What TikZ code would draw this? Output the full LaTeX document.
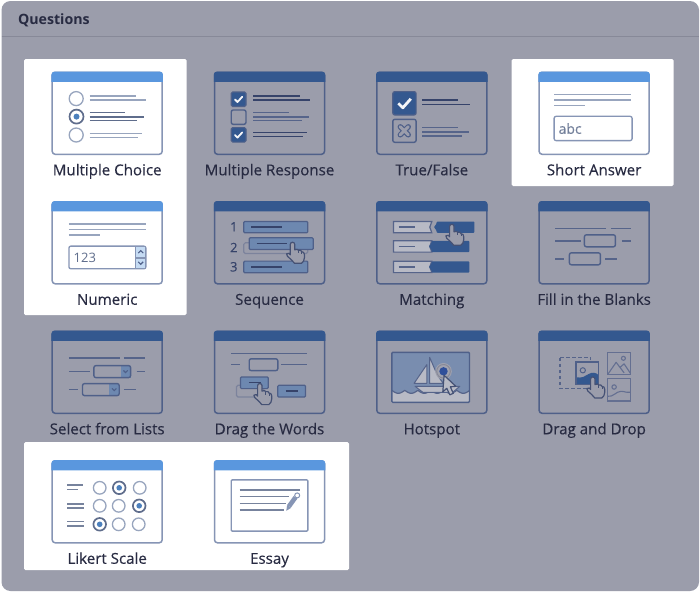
\documentclass[tikz,border=0pt]{standalone}
\usepackage{fontspec}
\setmainfont{Open Sans}
\newfontfamily\qfont[FakeBold=0.25]{Open Sans}
\usetikzlibrary{
  positioning
}
\definecolor{panel}{HTML}{9B9DAB}
\definecolor{panelline}{HTML}{878998}
\definecolor{headon}{HTML}{5A97DE}
\definecolor{headoff}{HTML}{34588F}
\definecolor{edgeon}{HTML}{8695B5}
\definecolor{edgeoff}{HTML}{4F6089}
\definecolor{lineon}{HTML}{98A5BE}
\definecolor{lineondark}{HTML}{5F6D8C}
\definecolor{lineoff}{HTML}{56648A}
\definecolor{lineoffdark}{HTML}{36436A}
\definecolor{bluebar}{HTML}{6D88B0}
\definecolor{pale}{HTML}{B8BAC5}
\definecolor{ink}{HTML}{282B42}
\tikzset{
  node distance = 47.5pt and 52.3pt,
  every node/.append style = {outer sep=0pt},
  win/.style = {draw, line width=1.5pt, rounded corners=3pt, minimum width=110pt, minimum height=82pt, inner sep=0pt},
  winon/.style = {win, draw=edgeon, fill=white},
  winoff/.style = {win, draw=edgeoff},
  qlabel/.style = {inner sep=0pt, text height=11pt, text depth=3pt, text=ink, font=\qfont\fontsize{15.1}{17}\selectfont},
  ln/.style = {line width=1.4pt, draw=lineoff},
  lndark/.style = {line width=1.4pt, draw=lineoffdark},
  lnon/.style = {line width=1.4pt, draw=lineon},
  lnondark/.style = {line width=1.4pt, draw=lineondark},
  blank/.style = {line width=1.4pt, draw=edgeoff, rounded corners=2pt},
  bluebox/.style = {line width=1.2pt, draw=edgeoff, fill=bluebar, rounded corners=1pt},
  ghost/.style = {line width=1.2pt, draw=lineoff!45!panel, rounded corners=1.5pt},
  radio/.style = {line width=1.3pt, draw=lineon, fill=white},
  radiosel/.style = {line width=1.7pt, draw=lineondark, fill=white},
  dot/.style = {fill=headon!85!black},
  hand/.style = {line width=1.2pt, draw=lineoffdark!85!panel, fill=panel, line join=round},
  tick/.style = {line width=1.8pt, draw=white!90!panel, line cap=round, line join=round},
  spin/.style = {line width=1pt, draw=edgeon, fill=headon!35!white},
  chev/.style = {line width=1.1pt, draw=edgeoff},
}
\newcommand{\qhead}[1]{\fill[#1] (-.75,9.5) [rounded corners=3pt] -- (-.75,-.75) -- (110.75,-.75) [sharp corners] -- (110.75,9.5) -- cycle;}
\newcommand{\qhand}[2]{\begin{scope}[shift={(#1,#2)}]
  \draw[hand] (-2.2,2) .. controls (-2.2,-.7) and (2.2,-.7) .. (2.2,2) -- (2.2,7.5) .. controls (4,6.5) and (5.5,7) .. (6,8) .. controls (7.5,7.5) and (9,8) .. (9.3,9.5) .. controls (10.5,9.5) and (12,10) .. (12,12.5) -- (12,15) .. controls (12,18) and (10.5,20) .. (9,21) -- (2,21) .. controls (0,19) and (-2,16) .. (-5,14) .. controls (-7,12.5) and (-6,10) .. (-3.5,11) -- (-2.2,12.5) -- cycle;
  \draw[hand] (6,8) -- (6,11) (9.3,9.5) -- (9.3,12);
\end{scope}}
\begin{document}
\begin{tikzpicture}[x=1pt,y=-1pt]
\useasboundingbox (0,0) rectangle (700,592);
\fill[white] (0,0) rectangle (700,592);
\fill[panel, rounded corners=9pt] (1.5,1) rectangle (699,591);
\draw[panelline, line width=1pt] (1.5,36) -- (699,36);
\node[anchor=base west, inner sep=0pt, text=ink, font=\fontsize{14.2}{16}\selectfont\bfseries] (title) at (18,24) {Questions};
\fill[white, rounded corners=1.5pt] (24,59) rectangle (186.5,315);
\fill[white, rounded corners=1.5pt] (511.5,59) rectangle (673.5,186);
\fill[white, rounded corners=1.5pt] (24,442) rectangle (349,570);

\node[winon] (choice) at (107.2,113.3) {};
\node[winoff, right=of choice] (response) {};
\node[winoff, right=of response] (truefalse) {};
\node[winon, right=of truefalse] (short) {};
\node[winon, below=of choice] (numeric) {};
\node[winoff, right=of numeric] (sequence) {};
\node[winoff, right=of sequence] (matching) {};
\node[winoff, right=of matching] (blanks) {};
\node[winoff, below=of numeric] (lists) {};
\node[winoff, right=of lists] (words) {};
\node[winoff, right=of words] (hotspot) {};
\node[winoff, right=of hotspot] (dragdrop) {};
\node[winon, below=of lists] (likert) {};
\node[winon, right=of likert] (essay) {};

\foreach \w/\t in {choice/Multiple Choice, response/Multiple Response, truefalse/True\slash False,
    short/Short Answer, numeric/Numeric, sequence/Sequence, matching/Matching,
    blanks/Fill in the Blanks, lists/Select from Lists, words/Drag the Words,
    hotspot/Hotspot, dragdrop/Drag and Drop, likert/Likert Scale, essay/Essay}
  \node[qlabel, below=10pt of \w] (\w-label) {\t};

\begin{scope}[shift={(choice.north west)}]
\qhead{headon}
\foreach \ya in {26.3,62.7} \draw[radio] (24,\ya) circle (7);
\draw[radiosel] (24.3,44.3) circle (7);
\fill[dot] (24.3,44.3) circle (3);
\foreach \xb/\ya in {84/23.7,94/27.7,90/61,86/65} \draw[lnon] (37.3,\ya) -- (\xb,\ya);
\foreach \xb/\ya in {73/40.3,92/44.7,85/48.3} \draw[lnondark] (37.3,\ya) -- (\xb,\ya);
\end{scope}

\begin{scope}[shift={(response.north west)}]
\qhead{headoff}
\foreach \ya in {19.7,55.3} {
  \draw[line width=1.2pt, draw=edgeoff, fill=headoff, rounded corners=1.5pt] (16.7,\ya) rectangle (31.5,\ya+14.5);
  \draw[tick] (20.5,\ya+7.5) -- (23,\ya+10) -- (27.7,\ya+4.8);
}
\draw[blank] (16.7,37.7) rectangle (31.5,52);
\foreach \xb/\ya in {85.3/23.7,95/27.7,92/60,88/64} \draw[lndark] (38.7,\ya) -- (\xb,\ya);
\foreach \xb/\ya in {74/40.3,94/44.7,87/48.3} \draw[ln] (38.7,\ya) -- (\xb,\ya);
\end{scope}

\begin{scope}[shift={(truefalse.north west)}]
\qhead{headoff}
\draw[line width=1.2pt, draw=edgeoff, fill=headoff, rounded corners=2pt] (16,19.3) rectangle (39.3,42.7);
\draw[line width=2.8pt, draw=white!90!panel, line join=round] (21.5,31) -- (26,35.5) -- (34,26.5);
\draw[blank] (16,47) rectangle (39.3,70);
\draw[line width=5.4pt, draw=edgeoff, line cap=round] (23.5,54.5) -- (31.5,62.5) (23.5,62.5) -- (31.5,54.5);
\draw[line width=3pt, draw=panel, line cap=round] (23.5,54.5) -- (31.5,62.5) (23.5,62.5) -- (31.5,54.5);
\foreach \xb/\ya in {80.7/27.7,93.3/32} \draw[lndark] (45.3,\ya) -- (\xb,\ya);
\foreach \xb/\ya in {80.7/55.3,91.7/59.7,85/63.7} \draw[ln] (45.3,\ya) -- (\xb,\ya);
\end{scope}

\begin{scope}[shift={(short.north west)}]
\qhead{headon}
\foreach \xb/\ya in {91.7/22.3,91.7/27.7,46.3/33.3} \draw[lnon] (15,\ya) -- (\xb,\ya);
\draw[line width=1.3pt, draw=edgeon, rounded corners=2pt] (15,44) rectangle (93,68.3);
\node[anchor=base west, inner sep=0pt, text=edgeon!85!black, font=\qfont\fontsize{14}{16}\selectfont] (abc) at (19.5,61.5) {abc};
\end{scope}

\begin{scope}[shift={(numeric.north west)}]
\qhead{headon}
\foreach \xb/\ya in {93.7/22,93.7/27.7,48/33.3} \draw[lnon] (16.7,\ya) -- (\xb,\ya);
\draw[line width=1.3pt, draw=edgeon, rounded corners=2pt] (16.7,44.3) rectangle (93.7,67);
\node[anchor=base west, inner sep=0pt, text=lineondark, font=\fontsize{13}{15}\selectfont] (digits) at (21.5,60.5) {123};
\draw[spin] (83.5,44.8) rectangle (93.4,55.2);
\draw[spin] (83.5,56.2) rectangle (93.4,66.6);
\draw[chev] (86,51.3) -- (88.5,48.8) -- (91,51.3);
\draw[chev] (86,60) -- (88.5,62.5) -- (91,60);
\end{scope}

\begin{scope}[shift={(sequence.north west)}]
\qhead{headoff}
\foreach \ya/\t in {25/1,45.7/2,65/3}
  \node[inner sep=0pt, text=lineoffdark, font=\qfont\fontsize{13}{15}\selectfont] (n\t) at (19.3,\ya) {\t};
\draw[ghost] (29.3,41) rectangle (93.3,51.7);
\draw[bluebox] (29.3,19.7) rectangle (93.3,31);
\draw[bluebox] (29.3,59.3) rectangle (93.3,71);
\draw[bluebox] (34.7,36) rectangle (98.7,47.7);
\draw[lndark] (36.7,25) -- (67,25) (36.7,65) -- (67,65) (42,41.7) -- (72,41.7);
\qhand{78}{40.5}
\end{scope}

\begin{scope}[shift={(matching.north west)}]
\qhead{headoff}
\foreach \ya in {19.7,39,59.5} {
  \draw[line width=1.2pt, draw=lineoff, fill=pale] (55,\ya) -- (16.7,\ya) -- (16.7,\ya+11.3) -- (55,\ya+11.3) -- (53,\ya+5.6) -- cycle;
  \draw[ln] (21.7,\ya+5.6) -- (38.5,\ya+5.6);
}
\foreach \xa/\ya in {60/19.7,55/39,55/59.5}
  \fill[headoff, rounded corners=.8pt] (\xa,\ya) -- (\xa+37.5,\ya) -- (\xa+37.5,\ya+11.3) -- (\xa,\ya+11.3) -- (\xa-.5,\ya+8.5) -- (\xa-3,\ya+5.6) -- (\xa-.5,\ya+2.8) -- cycle;
\qhand{75}{22.5}
\end{scope}

\begin{scope}[shift={(blanks.north west)}]
\qhead{headoff}
\foreach \xa/\xb/\ya in {16.3/67/26.7,71.7/91.7/26.7,16.3/41.7/39,82.7/91.7/39,16.3/25.3/57,66/78/57} \draw[ln] (\xa,\ya) -- (\xb,\ya);
\draw[blank] (45.3,33) rectangle (76.3,45);
\draw[blank] (30.3,51) rectangle (61.3,63);
\end{scope}

\begin{scope}[shift={(lists.north west)}]
\qhead{headoff}
\foreach \xa/\xb/\ya in {16.7/67.3/26.7,71.7/92.3/26.7,16.7/37.3/40.3,84.3/92.3/40.3,16.7/25.7/58.3,71.7/84/58.3} \draw[ln] (\xa,\ya) -- (\xb,\ya);
\foreach \xa/\ya in {41.7/34.3,30.3/52.3} {
  \fill[bluebar] (\xa+26.7,\ya) rectangle (\xa+36.7,\ya+12);
  \draw[blank] (\xa,\ya) rectangle (\xa+36.7,\ya+12);
  \draw[chev] (\xa+29.5,\ya+4.8) -- (\xa+31.7,\ya+7) -- (\xa+33.9,\ya+4.8);
}
\end{scope}

\begin{scope}[shift={(words.north west)}]
\qhead{headoff}
\foreach \xa/\xb/\ya in {16.7/92/22.3,16.7/25.3/33.3,66.7/92/33.3} \draw[ln] (\xa,\ya) -- (\xb,\ya);
\draw[blank] (34.7,27.5) rectangle (63.3,39.3);
\draw[ghost] (22,54) rectangle (49.3,65.7);
\draw[bluebox] (26,45.7) rectangle (53.7,57.3);
\draw[bluebox] (63.3,54) rectangle (91,65.7);
\draw[lndark] (34.3,51.3) -- (46,51.3) (71,59.7) -- (83.7,59.7);
\qhand{45.3}{52.3}
\end{scope}

\begin{scope}[shift={(hotspot.north west)}]
\qhead{headoff}
\fill[bluebar!75!panel] (15,21) rectangle (92.7,71);
\fill[pale] plot[domain=15:92.7, samples=80, variable=\xv] (\xv, {59+3*abs(sin(180*(\xv-15)/13))}) -- (92.7,71) -- (15,71) -- cycle;
\draw[ln, line width=1.2pt] plot[domain=15:92.7, samples=80, variable=\xv] (\xv, {59+3*abs(sin(180*(\xv-15)/13))});
\draw[line width=1.4pt, draw=edgeoff, rounded corners=1pt] (15,21) rectangle (92.7,71);
\draw[line width=1pt, draw=lineoff, fill=pale, line join=round] (50,33.3) -- (37.3,52) -- (50,52) -- cycle;
\draw[line width=1pt, draw=lineoff, fill=pale, line join=round] (52.7,25.7) -- (52.7,52) -- (66.7,52) .. controls (60,45) and (57,35) .. (52.7,25.7);
\draw[line width=1pt, draw=lineoff, fill=pale, line join=round] (38.3,55) -- (83,55) -- (76,61) -- (46,61) -- cycle;
\fill[panel!95!white] (66.7,40) circle (8.3);
\draw[panelline, line width=1pt] (66.7,40) circle (6.8);
\fill[headoff!90!blue] (66.7,40) circle (4.2);
\draw[hand, fill=pale] (67.3,44) -- (79,55) -- (73.5,55.5) -- (76.5,62) -- (73,63.5) -- (70,57) -- (66,60.5) -- cycle;
\end{scope}

\begin{scope}[shift={(dragdrop.north west)}]
\qhead{headoff}
\draw[line width=1.3pt, draw=lineoff, dashed, dash pattern=on 3.5pt off 2.5pt] (21,26.3) rectangle (51.7,57.3);
\fill[panel] (37,30.7) rectangle (59.7,53);
\fill[headoff] (37,53) -- (37,46) .. controls (43,47) and (46,45) .. (49,43) .. controls (53,40.5) and (57,41) .. (59.7,44) -- (59.7,53) -- cycle;
\draw[line width=1.3pt, draw=edgeoff] (37,30.7) rectangle (59.7,53);
\draw[line width=1pt, draw=edgeoff] (43.7,39) circle (2.6);
\foreach \ya in {21,47.3} \draw[line width=1.2pt, draw=lineoff!80!panel] (68.7,\ya) rectangle (91.3,\ya+22.3);
\draw[line width=1.1pt, draw=lineoff!80!panel, line join=round] (68.7,43) -- (77,31) -- (85,41.5) (81,36) -- (85,32.5) -- (91.3,42);
\draw[line width=1.1pt, draw=lineoff!80!panel] (84.3,27) circle (2);
\draw[line width=1.1pt, draw=lineoff!80!panel] (75,55.7) circle (2.2);
\draw[line width=1.1pt, draw=lineoff!80!panel] (68.7,65) .. controls (74,66) and (77,60) .. (82,60) .. controls (86,60) and (88,62) .. (91.3,61);
\qhand{53.7}{45.7}
\end{scope}

\begin{scope}[shift={(likert.north west)}]
\qhead{headon}
\foreach \xb/\ya in {31/24,26/28.7,32/43,32/47.3,32/60.5,32/65} \draw[lnon, draw=lineondark!85!white] (15,\ya) -- (\xb,\ya);
\foreach \xa/\ya in {47.5/27,87.5/27,47.5/45,66.5/45,66.5/63.5,86.5/63.5} \draw[radio] (\xa,\ya) circle (6.3);
\foreach \xa/\ya in {67/27,87/45,47.5/63.5} {
  \draw[radiosel] (\xa,\ya) circle (6.3);
  \fill[dot] (\xa,\ya) circle (2.8);
}
\end{scope}

\begin{scope}[shift={(essay.north west)}]
\qhead{headon}
\draw[line width=1.4pt, draw=edgeon, rounded corners=1pt] (16.7,19) rectangle (93.3,70.3);
\foreach \xb/\ya in {85/29,74/35.5,71/42.7,69.3/49.3} \draw[lnon, draw=lineondark!85!white] (25,\ya) -- (\xb,\ya);
\draw[line width=4.6pt, draw=edgeon] (74.5,45.5) -- (81,36.5);
\fill[edgeon] (71.8,50) -- (72.6,44.2) -- (76.6,47) -- cycle;
\draw[line width=1pt, draw=edgeon, fill=white] (82.7,34.6) circle (2.5);
\end{scope}
\end{tikzpicture}
\end{document}
